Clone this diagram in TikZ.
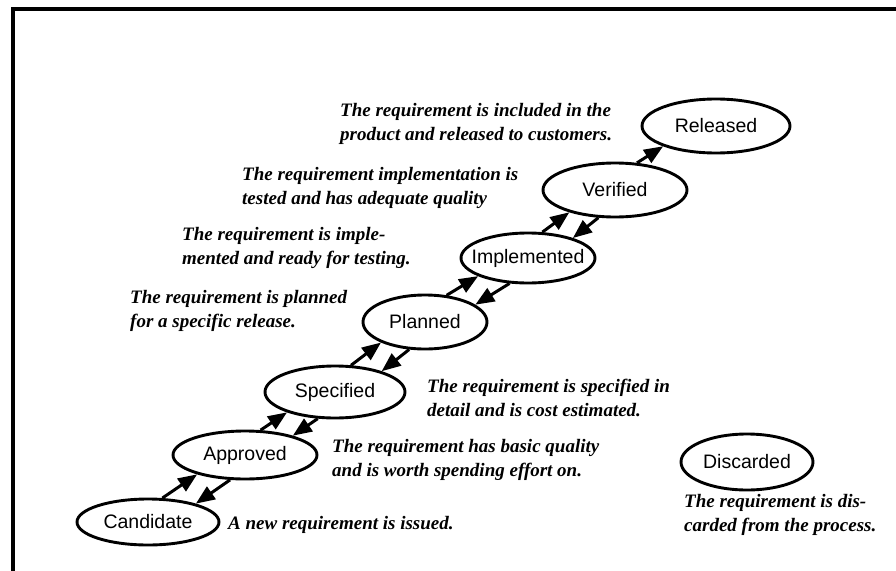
\documentclass[tikz,border=0pt]{standalone}
\usepackage{fontspec}
\setmainfont{Liberation Serif}
\newfontfamily\labelfont{Liberation Sans}
\usetikzlibrary{shapes.geometric,arrows.meta}

% geometry of each state: centre and radii, kept for the flow arrows
\newcommand\defstate[6]{%
  \expandafter\xdef\csname sx#1\endcsname{#3}%
  \expandafter\xdef\csname sy#1\endcsname{#4}%
  \expandafter\xdef\csname sa#1\endcsname{#5}%
  \expandafter\xdef\csname sb#1\endcsname{#6}%
  \node[state, minimum width=2*#5, minimum height=2*#6] (#1) at (#3,#4) {\makebox[0pt]{#2}};%
}

% angle (canvas) at which a line with unit direction (#1,#2), shifted by #5
% to its left, crosses an ellipse with radii #3,#4; #6 = +1 leaving, -1 entering
\newcommand\ellang[7]{%
  \edef\elVx{\fpeval{(#1)/(#3)}}\edef\elVy{\fpeval{(#2)/(#4)}}%
  \edef\elL{\fpeval{sqrt((\elVx)^2+(\elVy)^2)}}%
  \edef\elVx{\fpeval{(\elVx)/(\elL)}}\edef\elVy{\fpeval{(\elVy)/(\elL)}}%
  \edef\elPx{\fpeval{-(#5)*(#2)/(#3)}}\edef\elPy{\fpeval{(#5)*(#1)/(#4)}}%
  \edef\elB{\fpeval{(\elPx)*(\elVx)+(\elPy)*(\elVy)}}%
  \edef\elC{\fpeval{(\elPx)^2+(\elPy)^2-1}}%
  \edef\elS{\fpeval{-(\elB)+(#6)*sqrt((\elB)^2-(\elC))}}%
  \xdef#7{\fpeval{round(atand(((\elPy)+(\elS)*(\elVy))*(#4),((\elPx)+(\elS)*(\elVx))*(#3)),2)}}%
}

% arrow from state #1 to state #2, running parallel to the line of centres
\newcommand\flow[3]{%
  \edef\fdx{\fpeval{(\csname sx#2\endcsname)-(\csname sx#1\endcsname)}}%
  \edef\fdy{\fpeval{(\csname sy#1\endcsname)-(\csname sy#2\endcsname)}}%
  \edef\flen{\fpeval{sqrt((\fdx)^2+(\fdy)^2)}}%
  \edef\fux{\fpeval{(\fdx)/(\flen)}}\edef\fuy{\fpeval{(\fdy)/(\flen)}}%
  \ellang{\fux}{\fuy}{\csname sa#1\endcsname}{\csname sb#1\endcsname}{#3}{1}\angA
  \ellang{\fux}{\fuy}{\csname sa#2\endcsname}{\csname sb#2\endcsname}{#3}{-1}\angB
  \draw[flow] (#1.\angA) -- (#2.\angB);%
}

\tikzset{
  state/.style={draw, ellipse, line width=2.9pt, inner sep=0pt,
    font=\labelfont\fontsize{19.5}{21}\selectfont},
  flow/.style={line width=3pt, -{Triangle[length=19pt,width=15pt]}},
  note/.style={anchor=west, align=left, inner sep=0pt,
    font=\bfseries\itshape\fontsize{19}{24.5}\selectfont},
  frame/.style={line width=4pt},
}

\begin{document}
\begin{tikzpicture}[x=1pt,y=-1pt]
\useasboundingbox (0,0) rectangle (896,570);
\fill[white] (0,0) rectangle (896,570);
\clip (0,0) rectangle (896,570);

% page frame
\draw[frame] (12.5,600) -- (12.5,9) -- (920,9);

% states
\defstate{cand}{Candidate}{148}{522}{71}{23}
\defstate{appr}{Approved}{245}{455}{72}{24}
\defstate{spec}{Specified}{335}{392}{70}{26}
\defstate{plan}{Planned}{425}{322}{62}{27}
\defstate{impl}{Implemented}{528}{258}{67}{25}
\defstate{veri}{Verified}{615}{190}{72}{27}
\defstate{rele}{Released}{716}{126}{74}{27}
\defstate{disc}{Discarded}{747}{462}{66}{28}

% transitions: forward on the upper side, back on the lower side
\flow{cand}{appr}{11}\flow{appr}{cand}{11}
\flow{appr}{spec}{11}\flow{spec}{appr}{11}
\flow{spec}{plan}{11}\flow{plan}{spec}{11}
\flow{plan}{impl}{11}\flow{impl}{plan}{11}
\flow{impl}{veri}{11}\flow{veri}{impl}{11}
\flow{veri}{rele}{11}

% descriptions
\node[note] (nrele) at (340,124) {The requirement is included in the\\product and released to customers.};
\node[note] (nveri) at (242,188) {The requirement implementation is\\tested and has adequate quality};
\node[note] (nimpl) at (182,248) {The requirement is imple-\\mented and ready for testing.};
\node[note] (nplan) at (130,311) {The requirement is planned\\for a specific release.};
\node[note] (nspec) at (427,398) {The requirement is specified in\\detail and is cost estimated.};
\node[note] (nappr) at (332,460) {The requirement has basic quality\\and is worth spending effort on.};
\node[note] (ncand) at (228,525) {A new requirement is issued.};
\node[note] (ndisc) at (684,515) {The requirement is dis-\\carded from the process.};
\end{tikzpicture}
\end{document}
